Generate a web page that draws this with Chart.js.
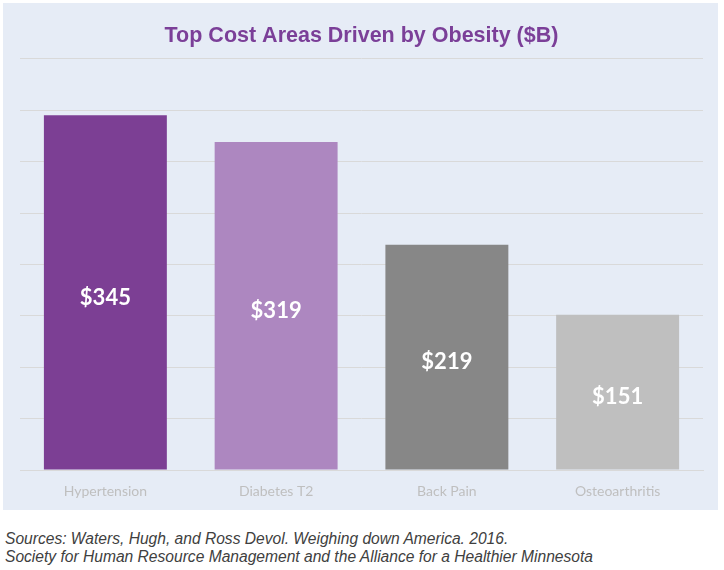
<!DOCTYPE html>
<html>
<head>
<meta charset="utf-8">
<script src="https://cdn.jsdelivr.net/npm/chart.js@4"></script>
<style>
  html, body { margin: 0; padding: 0; background: #ffffff; }
  body { width: 724px; height: 570px; position: relative; overflow: hidden; }
  #panel { position: absolute; left: 3px; top: 3px; width: 715px; height: 507px; background: #e6ecf6; }
  #source { position: absolute; left: 5px; top: 530px; font: italic 15.6px "Liberation Sans Narrow", "Liberation Sans", Arial, sans-serif; color: #404040; line-height: 18px; }
</style>
</head>
<body>
<div id="panel"><canvas id="chart" width="715" height="507"></canvas></div>
<div id="source">Sources: Waters, Hugh, and Ross Devol. Weighing down America. 2016.<br>Society for Human Resource Management and the Alliance for a Healthier Minnesota</div>
<script>
// categories and values ($B)
var categories = ['Hypertension', 'Diabetes T2', 'Back Pain', 'Osteoarthritis'];
var costs = [345, 319, 219, 151];
var barColors = ['#7c3f94', '#ad87c0', '#878787', '#bfbfbf'];
var yMax = 400;
var yStep = 50;

// white "$nnn" labels inside bars
var valueLabels = {
    id: 'valueLabels',
    afterDatasetsDraw: function(chart) {
        var ctx = chart.ctx;
        var meta = chart.getDatasetMeta(0);
        ctx.save();
        ctx.fillStyle = '#ffffff';
        ctx.font = 'bold 22px Lato, "Open Sans", sans-serif';
        ctx.textAlign = 'center';
        ctx.textBaseline = 'middle';
        meta.data.forEach(function(bar, i) {
            var mid = (bar.y + bar.base) / 2;
            ctx.fillText('$' + costs[i], bar.x, mid + 5);
        });
        ctx.restore();
    }
};

new Chart(document.getElementById('chart'), {
    type: 'bar',
    data: {
        labels: categories,
        datasets: [{
            data: costs,
            backgroundColor: barColors,
            categoryPercentage: 0.72,
            barPercentage: 1
        }]
    },
    options: {
        responsive: false,
        animation: false,
        layout: { padding: { left: 17, right: 15, top: 0, bottom: 10 } },
        plugins: {
            legend: { display: false },
            tooltip: { enabled: false },
            title: {
                display: true,
                text: 'Top Cost Areas Driven by Obesity ($B)',
                color: '#7b3f98',
                font: { family: '"Liberation Sans", Arial, sans-serif', size: 21.5, weight: 'bold' },
                padding: { top: 20, bottom: 10 }
            }
        },
        scales: {
            x: {
                grid: { display: false, drawTicks: false },
                border: { display: true, color: '#d9d9d9' },
                ticks: {
                    color: '#bfbfbf',
                    padding: 13,
                    font: { family: 'Lato, "Open Sans", sans-serif', size: 14 }
                },
                afterFit: function(scale) { scale.height = 30; }
            },
            y: {
                min: 0,
                max: yMax,
                ticks: { display: false, stepSize: yStep },
                grid: { color: '#d9d9d9', drawTicks: false },
                border: { display: false },
                afterFit: function(scale) { scale.width = 0; }
            }
        }
    },
    plugins: [valueLabels]
});
</script>
</body>
</html>
